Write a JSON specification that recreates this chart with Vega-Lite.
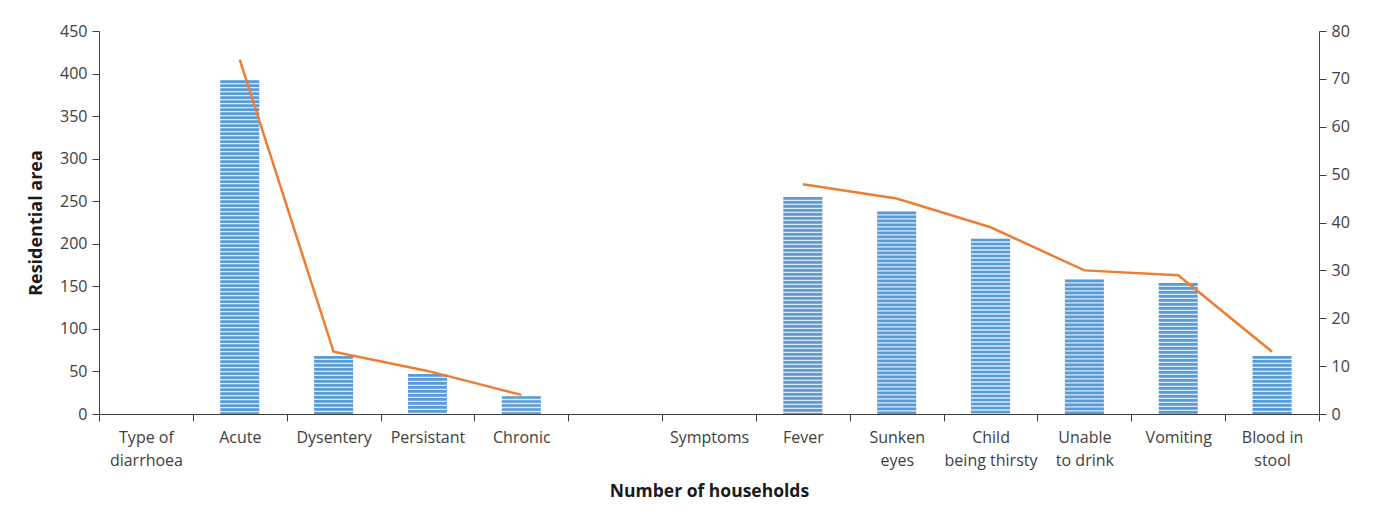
{
  "$schema": "https://vega.github.io/schema/vega-lite/v6.json",
  "width": 1220,
  "height": 383,
  "padding": {"left": 27, "top": 23, "right": 10, "bottom": 5},
  "background": "white",
  "config": {
    "view": {"stroke": null},
    "font": "Open Sans",
    "axis": {"labelFont": "Open Sans", "titleFont": "Open Sans", "labelColor": "#404040", "titleColor": "#1a1a1a", "domainColor": "#404040", "tickColor": "#404040", "grid": false, "labelFontSize": 16, "titleFontSize": 17.5, "titleFontWeight": "bold"}
  },
  "data": {
    "values": [
      {"cat": "Type of|diarrhoea", "households": null, "percent": null, "grp": "a"},
      {"cat": "Acute", "households": 392, "percent": 74, "grp": "a"},
      {"cat": "Dysentery", "households": 68, "percent": 13, "grp": "a"},
      {"cat": "Persistant", "households": 47, "percent": 9, "grp": "a"},
      {"cat": "Chronic", "households": 21, "percent": 4, "grp": "a"},
      {"cat": " ", "households": null, "percent": null, "grp": "b"},
      {"cat": "Symptoms", "households": null, "percent": null, "grp": "b"},
      {"cat": "Fever", "households": 255, "percent": 48, "grp": "b"},
      {"cat": "Sunken|eyes", "households": 238, "percent": 45, "grp": "b"},
      {"cat": "Child|being thirsty", "households": 206, "percent": 39, "grp": "b"},
      {"cat": "Unable|to drink", "households": 158, "percent": 30, "grp": "b"},
      {"cat": "Vomiting", "households": 154, "percent": 29, "grp": "b"},
      {"cat": "Blood in|stool", "households": 68, "percent": 13, "grp": "b"}
    ]
  },
  "encoding": {
    "x": {
      "field": "cat",
      "type": "nominal",
      "sort": null,
      "scale": {
        "domain": ["Type of|diarrhoea", "Acute", "Dysentery", "Persistant", "Chronic", " ", "Symptoms", "Fever", "Sunken|eyes", "Child|being thirsty", "Unable|to drink", "Vomiting", "Blood in|stool"],
        "paddingInner": 0, "paddingOuter": 0
      },
      "axis": {
        "title": "Number of households",
        "labelAngle": 0,
        "labelExpr": "split(datum.label, '|')",
        "labelLineHeight": 23,
        "labelPadding": 8,
        "tickBand": "extent",
        "tickSize": 7,
        "titlePadding": 14
      }
    }
  },
  "layer": [
    {
      "layer": [
        {
          "mark": {"type": "bar", "color": "#dce9f6", "width": {"band": 0.415}},
          "encoding": {
            "y": {
              "field": "households",
              "type": "quantitative",
              "scale": {"domain": [0, 450], "nice": false},
              "axis": {"title": "Residential area", "values": [0, 50, 100, 150, 200, 250, 300, 350, 400, 450], "tickSize": 7, "labelPadding": 5, "titlePadding": 14, "titleFontSize": 18, "domain": true}
            }
          }
        },
        {
          "mark": {"type": "rule", "color": "#5b9bd5", "strokeWidth": 39, "strokeDash": [2.7, 1.3], "strokeCap": "butt"},
          "encoding": {
            "y": {"field": "households", "type": "quantitative"},
            "y2": {"datum": 0}
          }
        }
      ]
    },
    {
      "mark": {"type": "line", "color": "#ed7d31", "strokeWidth": 2.5},
      "encoding": {
        "y": {
          "field": "percent",
          "type": "quantitative",
          "scale": {"domain": [0, 80], "nice": false},
          "axis": {"orient": "right", "title": null, "values": [0, 10, 20, 30, 40, 50, 60, 70, 80], "tickSize": 7, "labelPadding": 5}
        },
        "detail": {"field": "grp"}
      }
    }
  ],
  "resolve": {"scale": {"y": "independent"}}
}
